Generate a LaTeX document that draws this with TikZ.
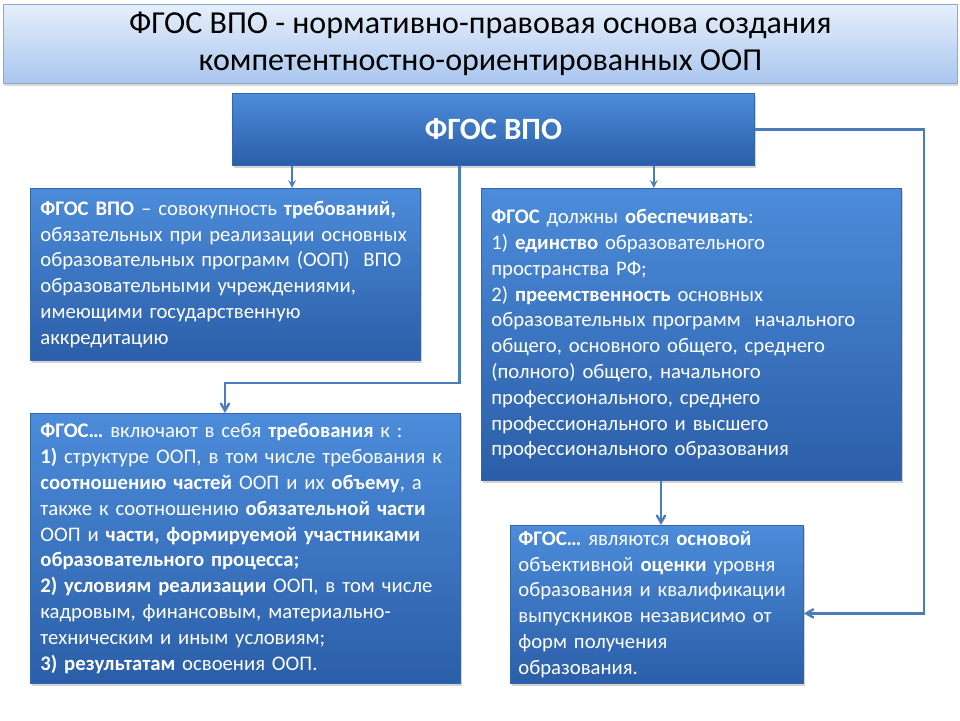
\documentclass[tikz,border=0pt]{standalone}
\usepackage{fontspec}
\setmainfont{Carlito}
\usepackage{tikz}
\usepackage{xcolor}
\usetikzlibrary{
    arrows,
    shadows,
    positioning
}
\definecolor{boxtop}{HTML}{4C8CDA}
\definecolor{boxbot}{HTML}{2B5EA8}
\definecolor{boxline}{HTML}{3566A8}
\definecolor{titletop}{HTML}{E6EFFB}
\definecolor{titlebot}{HTML}{A9C6EF}
\definecolor{titleline}{HTML}{8EA8CC}
\definecolor{linkblue}{HTML}{4A7EBB}
\newcommand{\boxfont}{\fontsize{20.7}{25.8}\selectfont}

\begin{document}
\begin{tikzpicture}[x=1pt, y=-1pt,
        bluebox/.style={draw=boxline, line width=0.8pt, top color=boxtop, bottom color=boxbot, text=white, align=left, inner sep=0pt, anchor=north west, font=\boxfont, drop shadow={shadow xshift=2pt, shadow yshift=-3pt, opacity=0.35}},
        link/.style={draw=linkblue, line width=2.4pt, ->, >=stealth},
        route/.style={draw=linkblue, line width=2.4pt, ->, >=angle 60}]
                \useasboundingbox (0,0) rectangle (960,720);
            
                \node[draw=titleline, line width=0.8pt, top color=titletop, bottom color=titlebot, align=center, inner sep=0pt, anchor=north west, minimum width=954pt, minimum height=79pt, font=\fontsize{32}{37}\selectfont, drop shadow={shadow xshift=1pt, shadow yshift=-3pt, opacity=0.3}] (title) at (3,4) {ФГОС ВПО - нормативно-правовая основа создания\\компетентностно-ориентированных ООП};
                
                \node[bluebox, align=center, minimum width=522pt, minimum height=72pt, font=\fontsize{31}{34}\selectfont\bfseries] (fgos) at (232,93) {ФГОС ВПО};
                
                \node[bluebox, minimum width=390pt, minimum height=172pt, text width=370pt] (def) at (30,188) {\textbf{ФГОС ВПО} – совокупность \textbf{требований,}\\обязательных при реализации основных\\образовательных программ (ООП)~ ВПО\\образовательными учреждениями,\\имеющими государственную\\аккредитацию};
                \node[bluebox, minimum width=420pt, minimum height=292pt, text width=400pt] (ensure) at (481,188) {\textbf{ФГОС} должны \textbf{обеспечивать}:\\1) \textbf{единство} образовательного\\пространства РФ;\\2) \textbf{преемственность} основных\\образовательных программ~ начального\\общего, основного общего, среднего\\(полного) общего, начального\\профессионального, среднего\\профессионального и высшего\\профессионального образования};
                
                \node[bluebox, minimum width=430pt, minimum height=270pt, text width=410pt] (include) at (30,413) {\textbf{ФГОС…} включают в себя \textbf{требования} к :\\\textbf{1)} структуре ООП, в том числе требования к\\\textbf{соотношению частей} ООП и их \textbf{объему}, а\\также к соотношению \textbf{обязательной части}\\ООП и \textbf{части, формируемой участниками}\\\textbf{образовательного процесса;}\\\textbf{2) условиям реализации} ООП, в том числе\\кадровым, финансовым, материально-\\техническим и иным условиям;\\\textbf{3) результатам} освоения ООП.};
                \node[bluebox, minimum width=293pt, minimum height=158pt, text width=277pt] (basis) at (510,525) {\textbf{ФГОС…} являются \textbf{основой}\\объективной \textbf{оценки} уровня\\образования и квалификации\\выпускников независимо от\\форм получения\\образования.};
                
                \coordinate (turn) at (225,383);
                
                \draw[link] ([xshift=60pt]fgos.south west) -- ([xshift=60pt]fgos.south west |- def.north);
                \draw[link] ([xshift=-101pt]fgos.south east) -- ([xshift=-101pt]fgos.south east |- ensure.north);
                \draw[route] ([xshift=-34pt]fgos.south) |- (turn) -- (turn |- include.north);
                \draw[route] ([xshift=180pt]ensure.south west) -- ([xshift=180pt]ensure.south west |- basis.north);
                \draw[route] (fgos.east) -- ++(169,0) |- ([yshift=-9pt]basis.east);
            \end{tikzpicture}
\end{document}
